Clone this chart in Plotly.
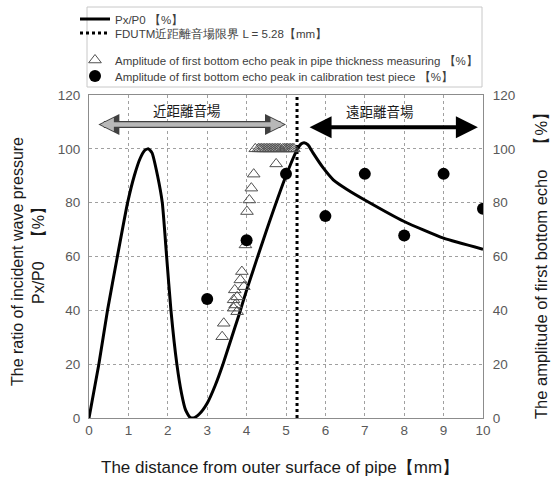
import plotly.graph_objects as go

# Px/P0 curve
curve_x = [0, 0.25, 0.47, 0.72, 0.98, 1.15, 1.3, 1.42, 1.51, 1.6, 1.74, 1.86, 1.97, 2.08, 2.23, 2.35, 2.45, 2.56, 2.65,
           2.8, 3.0, 3.2, 3.4, 3.6, 3.8, 4.0, 4.5, 5.0, 5.28, 5.38, 5.46, 5.56, 5.69, 5.95, 6.2, 6.54, 7.0, 8.0, 9.0, 10.0]
curve_y = [0, 20, 40, 60, 80, 90, 96.5, 99.5, 100, 98.5, 90, 80, 60, 40, 20, 9, 3, 0.3, 0,
           1.5, 5.5, 12, 20, 29, 38, 47.5, 69.5, 90, 99.6, 101.8, 102.3, 101.5, 98.4, 92.8, 88.5, 85, 81, 73, 66.8, 62.7]

near_field_L = 5.28
boundary_y = [0, 120]

# triangles: pipe thickness measuring
tri_x = [3.38, 3.42, 3.67, 3.76, 3.71, 3.67, 3.76, 3.70, 3.93, 3.84, 3.88, 3.97, 4.01, 4.07, 4.12, 4.18, 4.75,
         4.22, 4.30, 4.34, 4.38, 4.42, 4.46, 4.50, 4.54, 4.58, 4.62, 4.66, 4.70, 4.74, 4.78, 4.82, 4.86,
         4.92, 4.96, 5.00, 5.04, 5.08, 5.12, 5.16, 5.20]
tri_y = [30.2, 35.2, 40.8, 39.5, 42, 43.9, 45, 47.6, 48.8, 51.3, 54.4, 64.3, 76.7, 81, 85.4, 90.6, 94.4,
         100, 100, 100, 100, 100, 100, 100, 100, 100, 100, 100, 100, 100, 100, 100, 100,
         100, 100, 100, 100, 100, 100, 100, 100]

# circles: calibration test piece
cal_x = [3, 4, 5, 6, 7, 8, 9, 10]
cal_y = [44.2, 66, 90.7, 75, 90.7, 67.8, 90.7, 77.7]

x_ticks = list(range(0, 11))
y_ticks = list(range(0, 121, 20))

FONT = "Liberation Sans, Arial, sans-serif"
JP = "Noto Sans CJK JP, sans-serif"
TITLE_C = "#1a1a1a"

W, H = 552, 479

fig = go.Figure()
fig.add_trace(go.Scatter(x=curve_x, y=curve_y, mode="lines", name="Px/P0 【%】", legend="legend",
                         line=dict(color="black", width=3, shape="spline", smoothing=0.5)))
fig.add_trace(go.Scatter(x=[near_field_L, near_field_L], y=boundary_y, mode="lines", legend="legend2",
                         name="FDUTM近距離音場限界 L = 5.28【mm】",
                         line=dict(color="black", width=3, dash="dot")))
fig.add_trace(go.Scatter(x=tri_x, y=tri_y, mode="markers", yaxis="y2", legend="legend3",
                         name="Amplitude of first bottom echo peak in pipe thickness measuring 【%】",
                         marker=dict(symbol="triangle-up-open", size=11, color="#505050",
                                     line=dict(width=1))))
fig.add_trace(go.Scatter(x=cal_x, y=cal_y, mode="markers", yaxis="y2", legend="legend4",
                         name="Amplitude of first bottom echo peak in calibration test piece 【%】",
                         marker=dict(symbol="circle", size=12, color="black")))

axis_common = dict(showline=True, linecolor="#8c8c8c", linewidth=1, mirror=True,
                   ticks="", tickfont=dict(family=FONT, size=13.5, color="#595959"),
                   zeroline=False)

# plot area in page pixels: x 89..483, y 95..418
def py(pix):
    return (418 - pix) / 323.0

def px(pix):
    return (pix - 89) / 394.0

leg_common = dict(x=px(75), xanchor="left", yanchor="middle",
                  bgcolor="rgba(0,0,0,0)", borderwidth=0,
                  font=dict(family=FONT, size=11.5, color="#404040"), itemwidth=30)

fig.update_layout(
    width=W, height=H,
    margin=dict(l=89, r=69, t=95, b=61, autoexpand=False),
    paper_bgcolor="white", plot_bgcolor="white",
    font=dict(family=FONT, color="#333333"),
    showlegend=True,
    legend=dict(y=py(19), **leg_common),
    legend2=dict(y=py(33), **leg_common),
    legend3=dict(y=py(60), **leg_common),
    legend4=dict(y=py(76), **leg_common),
    xaxis=dict(range=[0, 10], tickvals=x_ticks, showgrid=True, gridcolor="#a0a0a0",
               griddash="dot", gridwidth=1, **axis_common),
    yaxis=dict(range=[0, 120], tickvals=y_ticks, showgrid=True, gridcolor="#a0a0a0",
               griddash="dot", gridwidth=1, ticklabelstandoff=5, **axis_common),
    yaxis2=dict(range=[0, 120], tickvals=y_ticks, overlaying="y", side="right",
                showgrid=False, ticklabelstandoff=6, **axis_common),
)

# legend frame
fig.add_shape(type="rect", xref="paper", yref="paper",
              x0=px(87), x1=px(482), y0=py(87), y1=py(7),
              line=dict(color="#c8c8c8", width=1), fillcolor="rgba(0,0,0,0)", layer="above")

# axis titles
fig.add_annotation(xref="paper", yref="paper", x=px(280), y=py(467), xanchor="center", yanchor="middle",
                   text="The distance from outer surface of pipe【mm】", showarrow=False,
                   font=dict(family=FONT, size=17, color=TITLE_C))
fig.add_annotation(xref="paper", yref="paper", x=px(17), y=py(262), xanchor="center", yanchor="middle",
                   text="The ratio of incident wave pressure",
                   textangle=-90, showarrow=False, font=dict(family=FONT, size=16, color=TITLE_C))
fig.add_annotation(xref="paper", yref="paper", x=px(39), y=py(252), xanchor="center", yanchor="middle",
                   text="Px/P0　【%】",
                   textangle=-90, showarrow=False, font=dict(family=FONT, size=16, color=TITLE_C))
fig.add_annotation(xref="paper", yref="paper", x=px(541), y=py(262), xanchor="center", yanchor="middle",
                   text="The amplitude of first bottom echo　【%】",
                   textangle=-90, showarrow=False, font=dict(family=FONT, size=16.5, color=TITLE_C))

# near-field / far-field arrows and labels
fig.add_annotation(x=5.0, y=109, ax=0.2, ay=109, xref="x", yref="y", axref="x", ayref="y",
                   text="", showarrow=True, arrowhead=2, arrowside="end+start",
                   arrowwidth=7, arrowsize=0.6, arrowcolor="#404040")
fig.add_annotation(x=4.95, y=109, ax=0.25, ay=109, xref="x", yref="y", axref="x", ayref="y",
                   text="", showarrow=True, arrowhead=2, arrowside="end+start",
                   arrowwidth=4.5, arrowsize=0.6, arrowcolor="#b8b8b8")
fig.add_annotation(x=9.87, y=108, ax=5.56, ay=108, xref="x", yref="y", axref="x", ayref="y",
                   text="", showarrow=True, arrowhead=2, arrowside="end+start",
                   arrowwidth=4, arrowsize=1.1, arrowcolor="black")
fig.add_annotation(x=2.48, y=114.5, xref="x", yref="y", text="近距離音場", showarrow=False,
                   font=dict(family=JP, size=13.5, color="#1a1a1a"))
fig.add_annotation(x=7.39, y=114, xref="x", yref="y", text="遠距離音場", showarrow=False,
                   font=dict(family=JP, size=13.5, color="#1a1a1a"))

# remove the default 8px page margin so the 552x479 figure fills the window exactly
fig.write_html("out.html", config={"displayModeBar": False},
               post_script="document.body.style.margin='0';document.body.style.overflow='hidden';")
